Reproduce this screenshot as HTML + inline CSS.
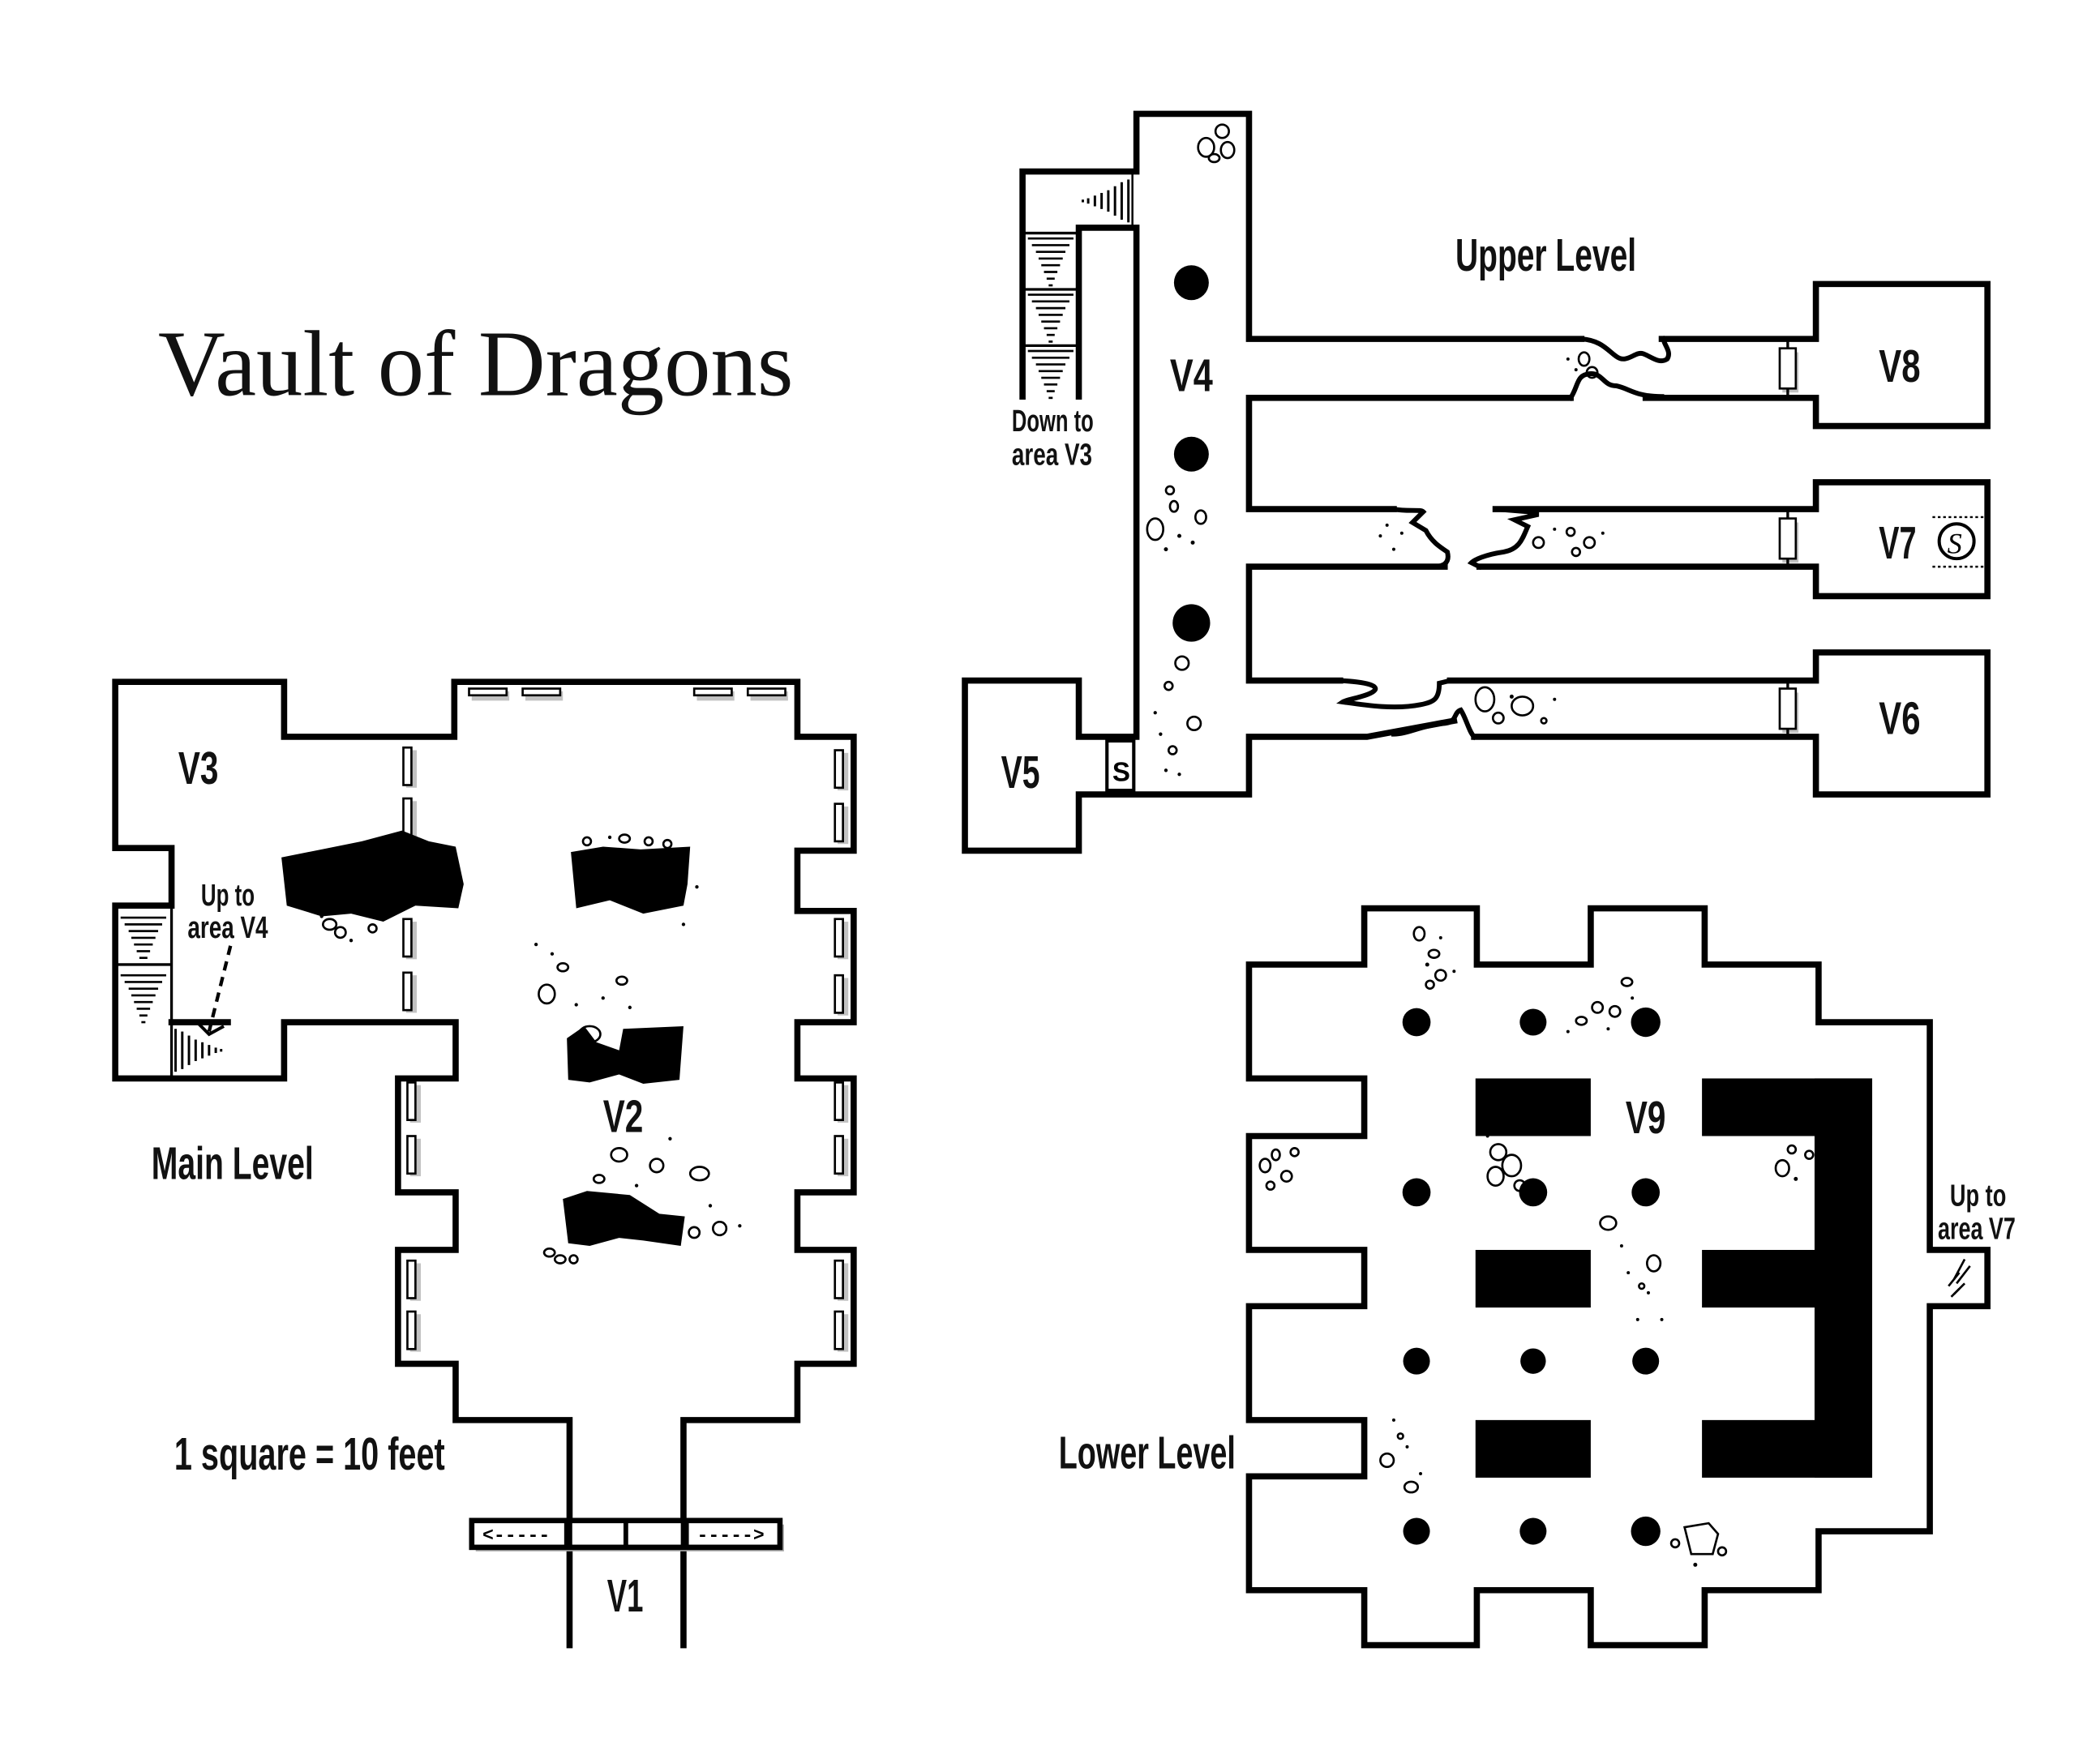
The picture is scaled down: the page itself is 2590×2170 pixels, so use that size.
<!DOCTYPE html>
<html><head><meta charset="utf-8"><style>
html,body{margin:0;padding:0;background:#fff;}
svg{display:block;}
.w{fill:none;stroke:#000;stroke-width:4.6;stroke-linejoin:miter;stroke-linecap:square;}
.lbl{font-family:"Liberation Sans Narrow","Liberation Sans",sans-serif;font-weight:bold;fill:#111;}
.dr{fill:#fff;stroke:#000;stroke-width:1.6;}
.sh{fill:#999;opacity:.6;}
.rb{fill:none;stroke:#000;stroke-width:1.6;}
.dt{fill:#000;}
</style></head><body>
<svg width="2590" height="2170" viewBox="0 0 1567 1313" preserveAspectRatio="none" xmlns="http://www.w3.org/2000/svg">
<rect width="1567" height="1313" fill="#fff"/>
<defs>
<g id="stD"><g stroke="#000" stroke-width="1.6"><line x1="-17" y1="2" x2="17" y2="2"/><line x1="-14" y1="7" x2="14" y2="7"/><line x1="-11" y1="12" x2="11" y2="12"/><line x1="-9" y1="17" x2="9" y2="17"/><line x1="-7" y1="22" x2="7" y2="22"/><line x1="-5" y1="27" x2="5" y2="27"/><line x1="-3" y1="32" x2="3" y2="32"/><line x1="-1.5" y1="37" x2="1.5" y2="37"/></g></g>
<g id="stR"><g stroke="#000" stroke-width="1.8"><line x1="2" y1="-16" x2="2" y2="16"/><line x1="-3" y1="-14" x2="-3" y2="14"/><line x1="-8" y1="-11" x2="-8" y2="11"/><line x1="-13" y1="-8" x2="-13" y2="8"/><line x1="-18" y1="-6" x2="-18" y2="6"/><line x1="-23" y1="-4" x2="-23" y2="4"/><line x1="-28" y1="-2" x2="-28" y2="2"/><line x1="-32" y1="-1" x2="-32" y2="1"/></g></g>
<g id="dv"><rect class="sh" x="-1" y="-12" width="8" height="28"/><rect class="dr" x="-3" y="-14" width="6" height="28"/></g>
<g id="dh"><rect class="sh" x="-12" y="-1" width="28" height="7"/><rect class="dr" x="-14" y="-3" width="28" height="5"/></g>
<g id="ud"><rect class="sh" x="-4" y="-12" width="12" height="30"/><rect class="dr" x="-6" y="-15" width="12" height="30"/></g>
</defs>

<text x="118" y="295" font-family="Liberation Serif,serif" font-size="70" textLength="474" lengthAdjust="spacingAndGlyphs" fill="#111">Vault of Dragons</text>

<!-- MAIN LEVEL -->
<polyline class="w" points="425,1228 425,1060 340,1060 340,1018 297,1018 297,933 340,933 340,890 297,890 297,805 340,805 340,763 212,763 212,805 86,805 86,676 128,676 128,633 86,633 86,509 212,509 212,550 339,550 339,509 595,509 595,550 637,550 637,635 595,635 595,680 637,680 637,763 595,763 595,805 637,805 637,890 595,890 595,933 637,933 637,1018 595,1018 595,1060 510,1060 510,1228"/>
<line class="w" x1="128" y1="763" x2="170" y2="763"/>
<line x1="128" y1="720" x2="86" y2="720" stroke="#000" stroke-width="2"/>
<line x1="128" y1="676" x2="128" y2="805" stroke="#000" stroke-width="2"/>
<use href="#stD" x="107" y="683"/>
<use href="#stD" x="107" y="726"/>
<use href="#stR" transform="translate(133,784) scale(-1,1)"/>
<line x1="172" y1="706" x2="156" y2="770" stroke="#000" stroke-width="2.6" stroke-dasharray="7,5"/>
<polyline points="146,762 156,772 167,766" fill="none" stroke="#000" stroke-width="2.4"/>

<use href="#dv" x="304" y="572"/><use href="#dv" x="304" y="610"/>
<use href="#dv" x="304" y="700"/><use href="#dv" x="304" y="740"/>
<use href="#dv" x="307" y="822"/><use href="#dv" x="307" y="862"/>
<use href="#dv" x="307" y="955"/><use href="#dv" x="307" y="993"/>
<use href="#dv" x="626" y="574"/><use href="#dv" x="626" y="614"/>
<use href="#dv" x="626" y="700"/><use href="#dv" x="626" y="742"/>
<use href="#dv" x="626" y="822"/><use href="#dv" x="626" y="862"/>
<use href="#dv" x="626" y="955"/><use href="#dv" x="626" y="993"/>
<use href="#dh" x="364" y="517"/><use href="#dh" x="404" y="517"/>
<use href="#dh" x="532" y="517"/><use href="#dh" x="572" y="517"/>

<path d="M210,640 L240,634 L270,628 L300,620 L320,628 L340,632 L346,660 L342,678 L310,676 L286,688 L262,682 L240,684 L214,676 Z" fill="#000"/>
<path d="M426,636 L450,632 L478,634 L515,632 L513,660 L510,676 L480,682 L455,672 L430,678 Z" fill="#000"/>
<path d="M423,775 L436,766 L445,778 L462,784 L465,768 L510,766 L507,806 L480,809 L462,802 L440,808 L424,806 Z" fill="#000"/>
<path d="M420,895 L438,889 L470,892 L492,906 L511,908 L508,930 L480,926 L462,924 L440,930 L424,928 Z" fill="#000"/>
<g class="rb">
<ellipse cx="246" cy="690" rx="5" ry="4"/><ellipse cx="254" cy="696" rx="4" ry="4"/><ellipse cx="278" cy="693" rx="3" ry="3"/>
<ellipse cx="408" cy="742" rx="6" ry="7"/><ellipse cx="420" cy="722" rx="4" ry="3"/><ellipse cx="440" cy="772" rx="8" ry="6"/><ellipse cx="464" cy="732" rx="4" ry="3"/>
<ellipse cx="438" cy="628" rx="3" ry="3"/><ellipse cx="466" cy="626" rx="4" ry="3"/><ellipse cx="484" cy="628" rx="3" ry="3"/><ellipse cx="498" cy="630" rx="3" ry="3"/>
<ellipse cx="462" cy="862" rx="6" ry="5"/><ellipse cx="447" cy="880" rx="4" ry="3"/><ellipse cx="490" cy="870" rx="5" ry="5"/><ellipse cx="522" cy="876" rx="7" ry="5"/><ellipse cx="518" cy="920" rx="4" ry="4"/><ellipse cx="537" cy="917" rx="5" ry="5"/>
<ellipse cx="410" cy="935" rx="4" ry="3"/><ellipse cx="418" cy="940" rx="4" ry="3"/><ellipse cx="428" cy="940" rx="3" ry="3"/>
</g>
<g class="dt">
<circle cx="400" cy="705" r="1.3"/><circle cx="412" cy="712" r="1.3"/><circle cx="430" cy="750" r="1.3"/><circle cx="450" cy="745" r="1.3"/><circle cx="470" cy="752" r="1.3"/><circle cx="455" cy="625" r="1.3"/><circle cx="520" cy="662" r="1.3"/><circle cx="510" cy="690" r="1.3"/><circle cx="500" cy="850" r="1.3"/><circle cx="530" cy="900" r="1.3"/><circle cx="552" cy="915" r="1.3"/><circle cx="475" cy="885" r="1.3"/><circle cx="262" cy="702" r="1.3"/><circle cx="240" cy="684" r="1.3"/>
</g>

<!-- gate -->
<rect x="355" y="1138" width="230" height="20" fill="#aaa"/>
<rect x="352" y="1135" width="230" height="20" fill="#fff" stroke="#000" stroke-width="4"/>
<line x1="424" y1="1135" x2="424" y2="1155" stroke="#000" stroke-width="6"/>
<line x1="467" y1="1135" x2="467" y2="1155" stroke="#000" stroke-width="3.5"/>
<line x1="511" y1="1135" x2="511" y2="1155" stroke="#000" stroke-width="6"/>
<text x="360" y="1150" font-family="Liberation Mono,monospace" font-size="14" font-weight="bold" fill="#000">&lt;-----</text>
<text x="520" y="1150" font-family="Liberation Mono,monospace" font-size="14" font-weight="bold" fill="#000">-----&gt;</text>

<text class="lbl" x="133" y="585" font-size="34" textLength="30" lengthAdjust="spacingAndGlyphs">V3</text>
<text class="lbl" x="450" y="845" font-size="34" textLength="30" lengthAdjust="spacingAndGlyphs">V2</text>
<text class="lbl" x="453" y="1203" font-size="34" textLength="27" lengthAdjust="spacingAndGlyphs">V1</text>
<text class="lbl" x="150" y="676" font-size="23" textLength="40" lengthAdjust="spacingAndGlyphs">Up to</text>
<text class="lbl" x="140" y="700" font-size="23" textLength="60" lengthAdjust="spacingAndGlyphs">area V4</text>
<text class="lbl" x="113" y="880" font-size="34" textLength="121" lengthAdjust="spacingAndGlyphs">Main Level</text>
<text class="lbl" x="130" y="1097" font-size="34" textLength="202" lengthAdjust="spacingAndGlyphs">1 square = 10 feet</text>

<!-- UPPER LEVEL -->
<polyline class="w" points="763,296 763,128 848,128 848,85 932,85 932,253 1180,253"/>
<polyline class="w" points="1240,253 1355,253 1355,212 1483,212 1483,318 1355,318 1355,297 1228,297"/>
<polyline class="w" points="1172,297 932,297 932,380 1040,380"/>
<polyline class="w" points="1116,380 1355,380 1355,360 1483,360 1483,445 1355,445 1355,423 1104,423"/>
<polyline class="w" points="1078,423 932,423 932,508 1000,508"/>
<polyline class="w" points="1082,508 1355,508 1355,487 1483,487 1483,593 1355,593 1355,550 1100,550"/>
<polyline class="w" points="1085,538 1020,550 932,550 932,593 848,593 805,593 805,635 720,635 720,508 805,508 805,550 848,550 848,170 805,170 805,296"/>
<path class="w" style="stroke-width:3.6" d="M1180,253 C1195,254 1200,262 1206,266 C1214,272 1220,262 1226,264 C1232,266 1238,272 1244,268 C1248,262 1240,256 1242,253"/>
<path class="w" style="stroke-width:3.6" d="M1172,297 C1178,288 1176,280 1186,279 C1196,278 1196,288 1206,288 C1216,290 1220,296 1240,296"/>
<path class="w" style="stroke-width:3.6" d="M1040,380 C1050,382 1060,380 1062,382 L1054,390 L1064,396 C1068,404 1074,408 1080,412 C1082,420 1078,424 1064,423"/>
<path class="w" style="stroke-width:3.6" d="M1116,380 L1140,382 L1148,384 L1130,388 L1140,393 C1136,402 1134,410 1122,412 C1108,414 1100,418 1098,420 L1104,423"/>
<path class="w" style="stroke-width:3.6" d="M1000,508 C1020,509 1030,512 1025,516 C1020,520 1005,522 1002,524 C1016,526 1040,530 1060,526 C1070,524 1074,522 1074,510 L1082,508"/>
<path class="w" style="stroke-width:3.6" d="M1100,550 C1096,546 1094,536 1090,530 C1084,532 1088,540 1076,540 C1060,542 1050,548 1040,548"/>
<line x1="763" y1="174" x2="805" y2="174" stroke="#000" stroke-width="2"/>
<line x1="763" y1="216" x2="805" y2="216" stroke="#000" stroke-width="2"/>
<line x1="763" y1="258" x2="805" y2="258" stroke="#000" stroke-width="2"/>
<use href="#stD" x="784" y="176"/><use href="#stD" x="784" y="218"/><use href="#stD" x="784" y="260"/>
<use href="#stR" x="840" y="150"/>
<line x1="845" y1="130" x2="845" y2="168" stroke="#000" stroke-width="1.5"/>
<circle cx="889" cy="211" r="13"/><circle cx="889" cy="339" r="13"/><circle cx="889" cy="465" r="14"/>
<use href="#ud" x="1334" y="275"/><use href="#ud" x="1334" y="402"/><use href="#ud" x="1334" y="529"/>
<line x1="1334" y1="253" x2="1334" y2="260" stroke="#000" stroke-width="2"/><line x1="1334" y1="290" x2="1334" y2="297" stroke="#000" stroke-width="2"/>
<line x1="1334" y1="380" x2="1334" y2="387" stroke="#000" stroke-width="2"/><line x1="1334" y1="417" x2="1334" y2="423" stroke="#000" stroke-width="2"/>
<line x1="1334" y1="508" x2="1334" y2="514" stroke="#000" stroke-width="2"/><line x1="1334" y1="544" x2="1334" y2="550" stroke="#000" stroke-width="2"/>
<rect x="826" y="553" width="20" height="37" fill="#fff" stroke="#000" stroke-width="2.5"/>
<text x="830" y="583" font-family="Liberation Sans,sans-serif" font-weight="bold" font-size="20">S</text>
<line x1="1442" y1="386" x2="1480" y2="386" stroke="#000" stroke-width="1.5" stroke-dasharray="2,2"/>
<line x1="1442" y1="423" x2="1480" y2="423" stroke="#000" stroke-width="1.5" stroke-dasharray="2,2"/>
<circle cx="1460" cy="404" r="13" fill="none" stroke="#000" stroke-width="2.4"/>
<text x="1453" y="413" font-family="Liberation Serif,serif" font-style="italic" font-size="22">S</text>
<g class="rb">
<ellipse cx="900" cy="110" rx="6" ry="7"/><ellipse cx="912" cy="98" rx="5" ry="5"/><ellipse cx="916" cy="112" rx="5" ry="6"/><ellipse cx="906" cy="118" rx="4" ry="3"/>
<ellipse cx="862" cy="395" rx="6" ry="8"/><ellipse cx="876" cy="378" rx="3" ry="4"/><ellipse cx="896" cy="386" rx="4" ry="5"/><ellipse cx="873" cy="366" rx="3" ry="3"/>
<ellipse cx="882" cy="495" rx="5" ry="5"/><ellipse cx="891" cy="540" rx="5" ry="5"/><ellipse cx="872" cy="512" rx="3" ry="3"/><ellipse cx="875" cy="560" rx="3" ry="3"/>
<ellipse cx="1182" cy="268" rx="4" ry="5"/><ellipse cx="1188" cy="278" rx="4" ry="4"/>
<ellipse cx="1148" cy="405" rx="4" ry="4"/><ellipse cx="1172" cy="397" rx="3" ry="3"/><ellipse cx="1186" cy="405" rx="4" ry="4"/><ellipse cx="1176" cy="412" rx="3" ry="3"/>
<ellipse cx="1108" cy="522" rx="7" ry="9"/><ellipse cx="1136" cy="527" rx="8" ry="7"/><ellipse cx="1118" cy="536" rx="4" ry="4"/><ellipse cx="1152" cy="538" rx="2" ry="2"/>
</g>
<g class="dt">
<circle cx="880" cy="400" r="1.5"/><circle cx="870" cy="410" r="1.5"/><circle cx="890" cy="405" r="1.5"/><circle cx="862" cy="532" r="1.3"/><circle cx="870" cy="575" r="1.3"/><circle cx="880" cy="578" r="1.3"/><circle cx="866" cy="548" r="1.3"/>
<circle cx="1030" cy="400" r="1.2"/><circle cx="1040" cy="410" r="1.2"/><circle cx="1035" cy="392" r="1.2"/><circle cx="1046" cy="398" r="1.2"/><circle cx="1160" cy="395" r="1.2"/><circle cx="1196" cy="398" r="1.2"/><circle cx="1170" cy="268" r="1.2"/><circle cx="1176" cy="276" r="1.2"/><circle cx="1128" cy="520" r="1.5"/><circle cx="1160" cy="522" r="1.2"/>
</g>
<text class="lbl" x="1086" y="202" font-size="34" textLength="135" lengthAdjust="spacingAndGlyphs">Upper Level</text>
<text class="lbl" x="873" y="292" font-size="34" textLength="32" lengthAdjust="spacingAndGlyphs">V4</text>
<text class="lbl" x="1402" y="285" font-size="34" textLength="31" lengthAdjust="spacingAndGlyphs">V8</text>
<text class="lbl" x="1402" y="417" font-size="34" textLength="28" lengthAdjust="spacingAndGlyphs">V7</text>
<text class="lbl" x="1402" y="548" font-size="34" textLength="31" lengthAdjust="spacingAndGlyphs">V6</text>
<text class="lbl" x="747" y="588" font-size="34" textLength="29" lengthAdjust="spacingAndGlyphs">V5</text>
<text class="lbl" x="755" y="322" font-size="23" textLength="61" lengthAdjust="spacingAndGlyphs">Down to</text>
<text class="lbl" x="755" y="347" font-size="23" textLength="60" lengthAdjust="spacingAndGlyphs">area V3</text>

<!-- LOWER LEVEL -->
<polygon class="w" points="932,720 1018,720 1018,678 1102,678 1102,720 1187,720 1187,678 1272,678 1272,720 1357,720 1357,763 1440,763 1440,933 1483,933 1483,975 1440,975 1440,1143 1357,1143 1357,1187 1272,1187 1272,1228 1187,1228 1187,1187 1102,1187 1102,1228 1018,1228 1018,1187 932,1187 932,1102 1018,1102 1018,1060 932,1060 932,975 1018,975 1018,933 932,933 932,848 1018,848 1018,805 932,805"/>
<g fill="#000">
<rect x="1101" y="805" width="86" height="43"/><rect x="1101" y="933" width="86" height="43"/><rect x="1101" y="1060" width="86" height="43"/>
<rect x="1270" y="805" width="127" height="43"/><rect x="1354" y="805" width="43" height="298"/><rect x="1270" y="933" width="86" height="43"/><rect x="1270" y="1060" width="127" height="43"/>
<circle cx="1057" cy="763" r="10.5"/><circle cx="1144" cy="763" r="10"/><circle cx="1228" cy="763" r="11"/>
<circle cx="1057" cy="890" r="10.5"/><circle cx="1144" cy="890" r="10.5"/><circle cx="1228" cy="890" r="10.5"/>
<circle cx="1057" cy="1016" r="10"/><circle cx="1144" cy="1016" r="9.5"/><circle cx="1228" cy="1016" r="10"/>
<circle cx="1057" cy="1143" r="10"/><circle cx="1144" cy="1143" r="10"/><circle cx="1228" cy="1143" r="11"/>
</g>
<g stroke="#000" stroke-width="1.6">
<line x1="1466" y1="940" x2="1458" y2="955"/><line x1="1470" y1="945" x2="1460" y2="958"/><line x1="1462" y1="950" x2="1454" y2="960"/><line x1="1466" y1="958" x2="1458" y2="966"/><line x1="1462" y1="962" x2="1456" y2="968"/>
</g>
<g class="rb">
<ellipse cx="1059" cy="697" rx="4" ry="5"/><ellipse cx="1070" cy="712" rx="4" ry="3"/><ellipse cx="1075" cy="728" rx="4" ry="4"/><ellipse cx="1067" cy="735" rx="3" ry="3"/>
<ellipse cx="1180" cy="762" rx="4" ry="3"/><ellipse cx="1192" cy="752" rx="4" ry="4"/><ellipse cx="1205" cy="755" rx="4" ry="4"/><ellipse cx="1214" cy="733" rx="4" ry="3"/>
<ellipse cx="944" cy="870" rx="4" ry="5"/><ellipse cx="952" cy="862" rx="3" ry="4"/><ellipse cx="960" cy="878" rx="4" ry="4"/><ellipse cx="966" cy="860" rx="3" ry="3"/><ellipse cx="948" cy="885" rx="3" ry="3"/>
<ellipse cx="1118" cy="860" rx="6" ry="6"/><ellipse cx="1128" cy="870" rx="7" ry="8"/><ellipse cx="1116" cy="878" rx="6" ry="7"/><ellipse cx="1134" cy="885" rx="4" ry="4"/>
<ellipse cx="1330" cy="872" rx="5" ry="6"/><ellipse cx="1337" cy="858" rx="3" ry="3"/><ellipse cx="1350" cy="862" rx="3" ry="3"/>
<ellipse cx="1200" cy="913" rx="6" ry="5"/><ellipse cx="1234" cy="943" rx="5" ry="6"/><ellipse cx="1225" cy="960" rx="2" ry="2"/>
<ellipse cx="1035" cy="1090" rx="5" ry="5"/><ellipse cx="1053" cy="1110" rx="5" ry="4"/><ellipse cx="1045" cy="1072" rx="2" ry="2"/>
<path d="M1257,1140 L1275,1137 L1282,1145 L1278,1160 L1262,1160 Z"/><ellipse cx="1250" cy="1152" rx="3" ry="3"/><ellipse cx="1285" cy="1158" rx="3" ry="3"/>
</g>
<g class="dt">
<circle cx="1075" cy="700" r="1.2"/><circle cx="1085" cy="725" r="1.2"/><circle cx="1065" cy="720" r="1.5"/><circle cx="1170" cy="770" r="1.2"/><circle cx="1200" cy="768" r="1.2"/><circle cx="1218" cy="745" r="1.2"/>
<circle cx="1210" cy="930" r="1.2"/><circle cx="1215" cy="950" r="1.2"/><circle cx="1230" cy="965" r="1.2"/><circle cx="1240" cy="985" r="1.2"/><circle cx="1222" cy="985" r="1.2"/><circle cx="1340" cy="880" r="1.5"/>
<circle cx="1040" cy="1060" r="1.2"/><circle cx="1050" cy="1080" r="1.2"/><circle cx="1060" cy="1100" r="1.2"/><circle cx="1110" cy="848" r="1.2"/><circle cx="1265" cy="1168" r="1.5"/>
</g>
<text class="lbl" x="1213" y="846" font-size="34" textLength="30" lengthAdjust="spacingAndGlyphs">V9</text>
<text class="lbl" x="790" y="1096" font-size="34" textLength="132" lengthAdjust="spacingAndGlyphs">Lower Level</text>
<text class="lbl" x="1455" y="900" font-size="23" textLength="42" lengthAdjust="spacingAndGlyphs">Up to</text>
<text class="lbl" x="1446" y="925" font-size="23" textLength="58" lengthAdjust="spacingAndGlyphs">area V7</text>
</svg>
</body></html>
